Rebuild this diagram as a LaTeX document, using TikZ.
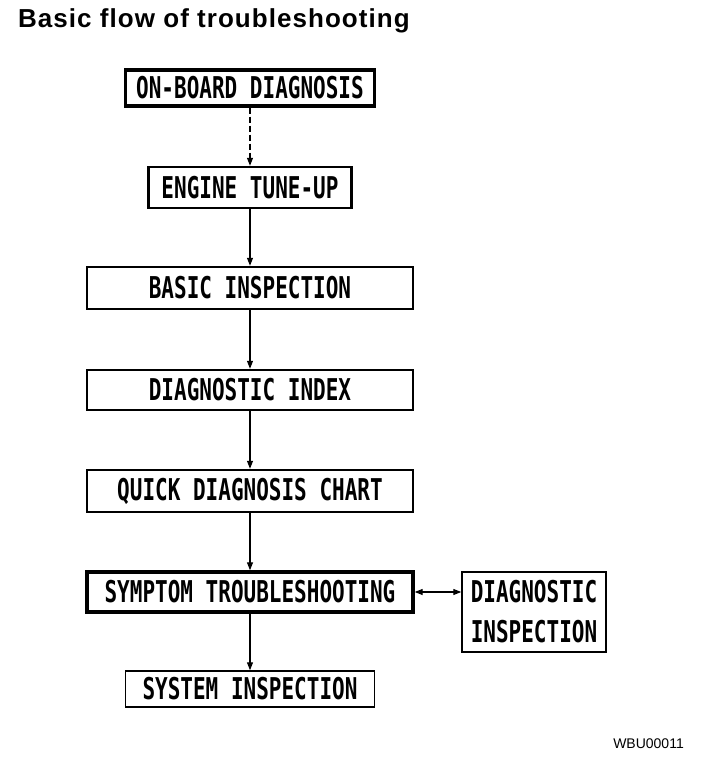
\documentclass[tikz,border=0pt]{standalone}
\usepackage{fontspec}
\setmainfont{Liberation Sans}
\newfontfamily\boxfont[FakeStretch=0.7]{DejaVu Sans Mono}
\newfontfamily\titlefont[LetterSpace=4]{Liberation Sans}
\usetikzlibrary{arrows.meta}

\begin{document}
\begin{tikzpicture}[
    x=1pt, y=-1pt,
    >={Triangle[length=8pt, width=6pt]},
    box/.style={draw, rectangle, line width=2.4pt, align=center, inner sep=0pt, font=\boxfont\bfseries\fontsize{30}{38}\selectfont},
    mainbox/.style={box, line width=3.4pt},
    thinbox/.style={box, line width=1.5pt},
    link/.style={->, line width=1.2pt}
]
    \useasboundingbox (0,0) rectangle (704,772);

    % Title
    \node[anchor=base west, inner sep=0pt, font=\titlefont\bfseries\fontsize{26}{30}\selectfont] (title) at (18,27) {Basic flow of troubleshooting};

    % Main column
    \node[mainbox, minimum width=249pt, minimum height=36pt] (obd) at (250,88) {ON-BOARD DIAGNOSIS};
    \node[box, minimum width=203pt, minimum height=41pt] (tune) at (250,187.5) {ENGINE TUNE-UP};
    \node[box, minimum width=326pt, minimum height=42pt] (basic) at (250,288) {BASIC INSPECTION};
    \node[box, minimum width=326pt, minimum height=40pt] (index) at (250,390) {DIAGNOSTIC INDEX};
    \node[box, minimum width=326pt, minimum height=42pt] (quick) at (250,491) {QUICK DIAGNOSIS CHART};
    \node[mainbox, minimum width=326pt, minimum height=40pt] (symptom) at (250,592) {SYMPTOM TROUBLESHOOTING};
    \node[thinbox, minimum width=249pt, minimum height=36pt] (system) at (250,689) {SYSTEM INSPECTION};

    % Side box
    \node[thinbox, minimum width=144pt, minimum height=80pt, font=\boxfont\bfseries\fontsize{30}{40}\selectfont] (diaginsp) at (534,612) {DIAGNOSTIC\\INSPECTION};

    % Figure code
    \node[anchor=base east, inner sep=0pt, font=\fontsize{14}{16}\selectfont] (code) at (684,748) {WBU00011};

    % Connections
    \draw[link, dashed, dash pattern=on 6pt off 3pt] (obd) -- (tune);
    \draw[link] (tune) -- (basic);
    \draw[link] (basic) -- (index);
    \draw[link] (index) -- (quick);
    \draw[link] (quick) -- (symptom);
    \draw[link] (symptom) -- (system);
    \draw[<->, line width=1.2pt] (symptom.east) -- (symptom.east -| diaginsp.west);

\end{tikzpicture}
\end{document}
